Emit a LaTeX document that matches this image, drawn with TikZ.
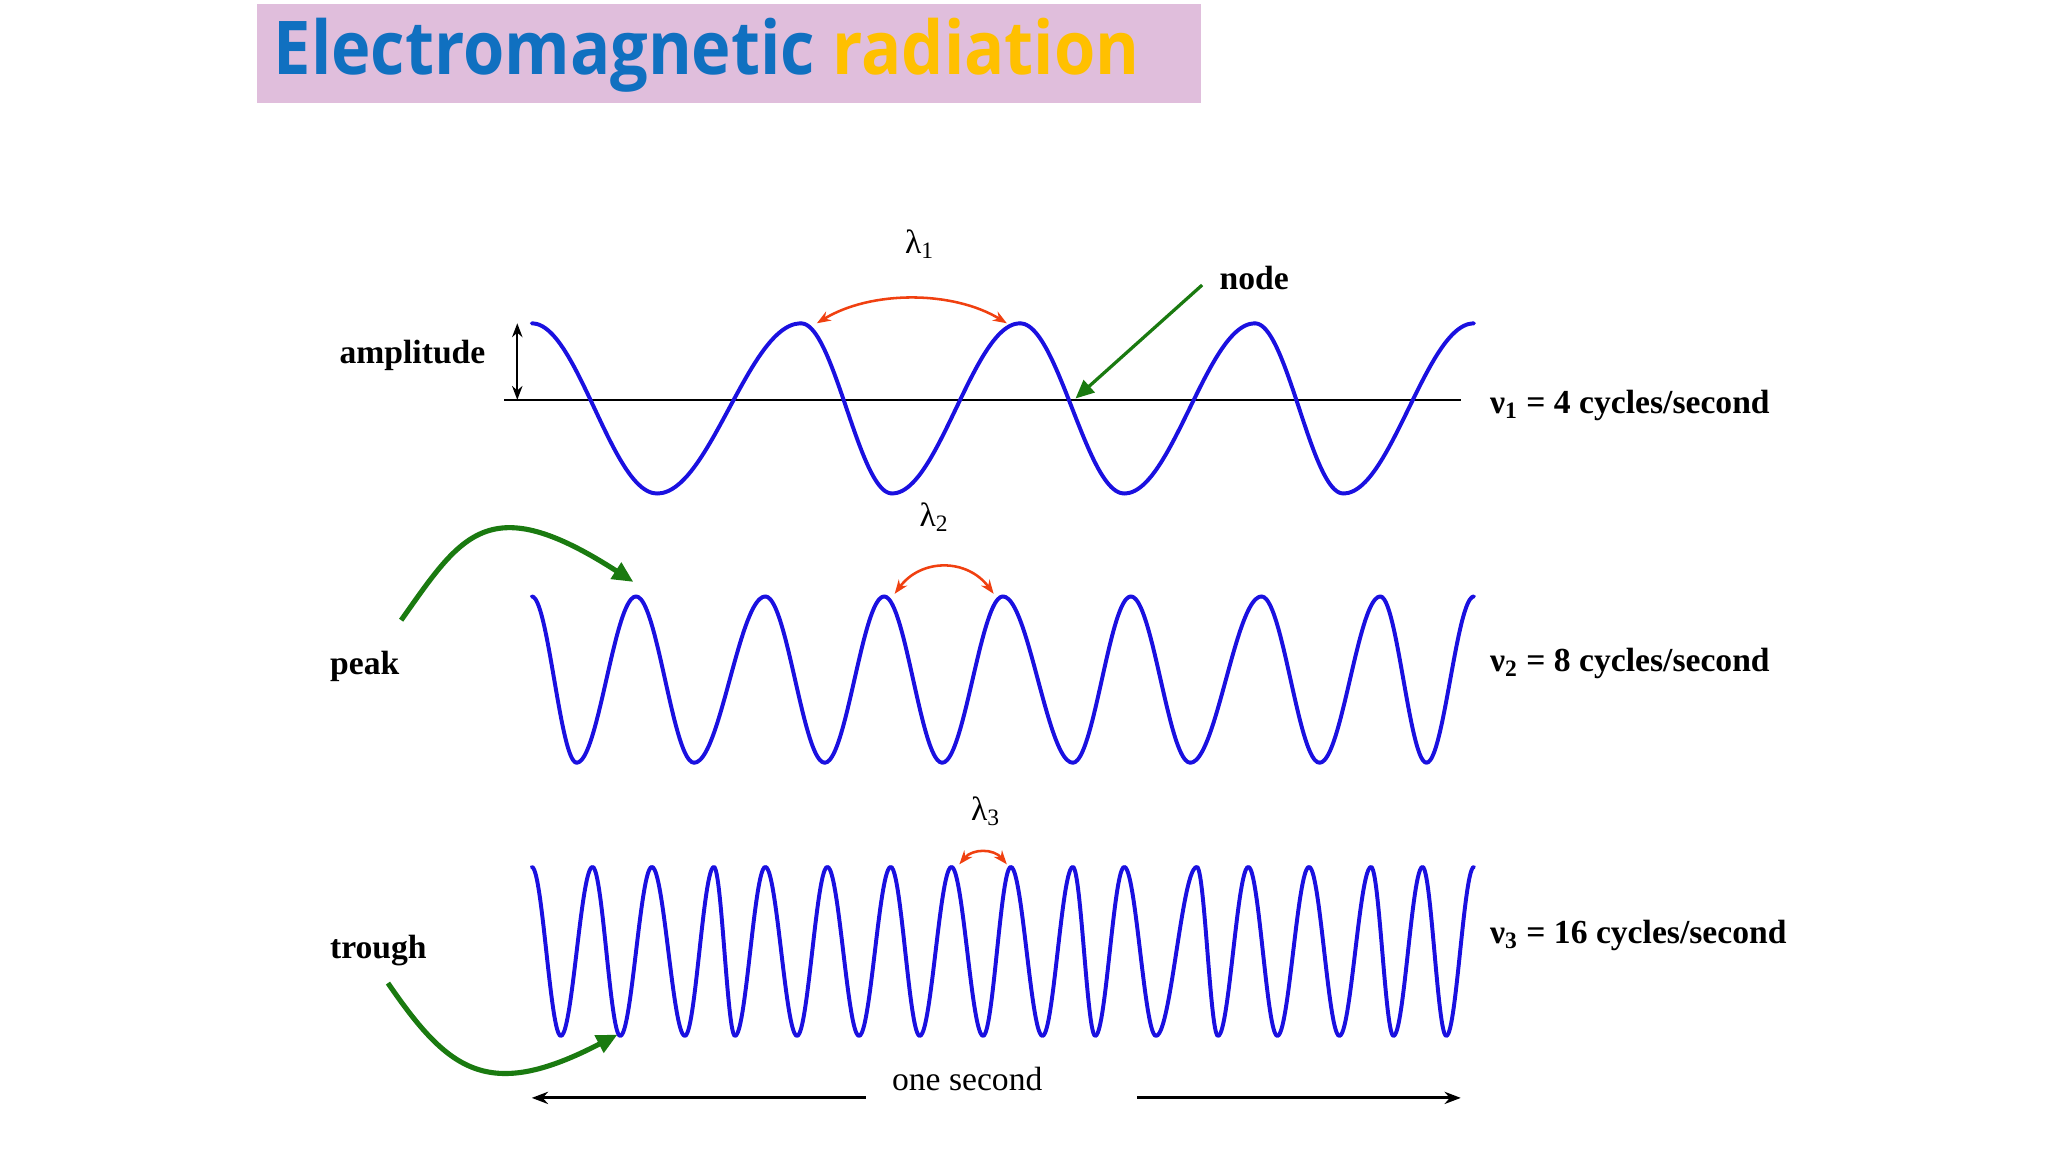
\documentclass[tikz,border=0pt]{standalone}
\usepackage{fontspec}
\usepackage{graphicx}
\setmainfont{Liberation Serif}
\newfontfamily\titlefont{Open Sans}
\usetikzlibrary{arrows.meta}
\definecolor{tblue}{HTML}{1070C0}
\definecolor{torange}{HTML}{FFC000}
\definecolor{tpink}{HTML}{E0BEDC}
\definecolor{wblue}{HTML}{1A10E0}
\definecolor{gr}{HTML}{1A7A10}
\definecolor{rd}{HTML}{F04010}
\newcommand{\wavedraw}[3]{% #1 list of x, #2 peak img y, #3 trough img y
  \foreach \xa/\xb [count=\i] in {#1} {
    \pgfmathsetmacro{\ya}{mod(\i,2)==1 ? #2 : #3}
    \pgfmathsetmacro{\yb}{mod(\i,2)==1 ? #3 : #2}
    \pgfmathsetmacro{\ym}{873-(\ya+\yb)/2}
    \pgfmathsetmacro{\yh}{(\yb-\ya)/2}
    \pgfmathsetmacro{\dx}{\xb-\xa}
    \draw[wave] plot[domain=0:1,samples=25,smooth] ({\xa+\dx*\x},{\ym+\yh*cos(180*\x)});
  }}
\begin{document}
\begin{tikzpicture}[x=0.02cm,y=0.02cm,
  wave/.style={wblue,line width=1.7pt,line cap=round},
  lab/.style={font=\fontsize{14.5}{17}\selectfont\bfseries},
  gar/.style={gr,line width=2.2pt,-{Triangle[length=9pt,width=8pt]}},
  rar/.style={rd,line width=1.1pt,{Stealth[length=6pt]}-{Stealth[length=6pt]}},
  lam/.style={font=\fontsize{14.5}{17}\selectfont}]
\useasboundingbox (0,0) rectangle (1552,873);
\fill[tpink] (195,{873-3}) rectangle (910,{873-78});
\node[anchor=west,inner sep=0] (title) at (207,{873-42}) {\scalebox{0.9}[1]{\titlefont\bfseries\fontsize{32}{36}\selectfont\color{tblue}Electromagnetic \color{torange}radiation}};
% axis
\coordinate (axL) at (382,{873-303});
\coordinate (axR) at (1107,{873-303});
\draw[line width=0.6pt] (axL) -- (axR);
% waves
\wavedraw{403/498,498/607,607/676,676/773,773/852,852/951,951/1018,1018/1117}{245}{374}
\wavedraw{403/437,437/482,482/526,526/580,580/625,625/670,670/714,714/760,760/813,813/857,857/902,902/956,956/1000,1000/1046,1046/1081,1081/1117}{452}{578}
\wavedraw{403/425,425/449,449/470,470/494,494/519,519/541,541/557,557/580,580/604,604/627,627/651,651/675,675/697,697/721,721/745,745/766,766/790,790/813,813/830,830/852,852/876,876/907,907/923,923/946,946/968,968/992,992/1015,1015/1039,1039/1056,1056/1078,1078/1096,1096/1117}{657}{785}
% amplitude
\node[lab,anchor=east] (amp) at (374,{873-269}) {amplitude};
\coordinate (a1) at (392,{873-245});
\coordinate (a2) at (392,{873-303});
\draw[line width=0.8pt,{Stealth[length=6pt]}-{Stealth[length=6pt]}] (a1) -- (a2);
% node
\node[lab,anchor=west] (nd) at (918,{873-211}) {node};
\coordinate (nd0) at (911,{873-216});
\coordinate (nd1) at (815,{873-302});
\draw[gr,line width=1.4pt,-{Triangle[length=8pt,width=7pt]}] (nd0) -- (nd1);
% lambdas
\node[lam] (l1) at (697,{873-185}) {λ\textsubscript{1}};
\coordinate (p1a) at (619,{873-245}); \coordinate (p1b) at (763,{873-245});
\draw[rar] (p1a) .. controls (660,{873-220}) and (722,{873-220}) .. (p1b);
\node[lam] (l2) at (708,{873-392}) {λ\textsubscript{2}};
\coordinate (p2a) at (678,{873-450}); \coordinate (p2b) at (753,{873-450});
\draw[rar] (p2a) .. controls (698,{873-423}) and (733,{873-423}) .. (p2b);
\node[lam] (l3) at (747,{873-615}) {λ\textsubscript{3}};
\coordinate (p3a) at (727,{873-655}); \coordinate (p3b) at (763,{873-655});
\draw[rar] (p3a) .. controls (737,{873-643}) and (753,{873-643}) .. (p3b);
% peak / trough
\node[lab,anchor=west] (pk) at (244,{873-505}) {peak};
\coordinate (pk0) at (304,{873-470});
\coordinate (pk1) at (480,{873-441});
\draw[gar] (pk0) .. controls (350,{873-405}) and (370,{873-370}) .. (pk1);
\node[lab,anchor=west] (tr) at (244,{873-720}) {trough};
\coordinate (tr0) at (294,{873-745});
\coordinate (tr1) at (468,{873-784});
\draw[gar] (tr0) .. controls (340,{873-812}) and (370,{873-835}) .. (tr1);
% frequencies
\node[lab,anchor=west] (n1) at (1123,{873-307}) {ν\textsubscript{1} = 4 cycles/second};
\node[lab,anchor=west] (n2) at (1123,{873-503}) {ν\textsubscript{2} = 8 cycles/second};
\node[lab,anchor=west] (n3) at (1123,{873-709}) {ν\textsubscript{3} = 16 cycles/second};
% one second
\node[lam] (os) at (733,{873-818}) {one second};
\coordinate (o1) at (656,{873-832}); \coordinate (o2) at (403,{873-832});
\coordinate (o3) at (862,{873-832}); \coordinate (o4) at (1107,{873-832});
\draw[line width=1.3pt,-{Stealth[length=7pt]}] (o1) -- (o2);
\draw[line width=1.3pt,-{Stealth[length=7pt]}] (o3) -- (o4);
\end{tikzpicture}
\end{document}
